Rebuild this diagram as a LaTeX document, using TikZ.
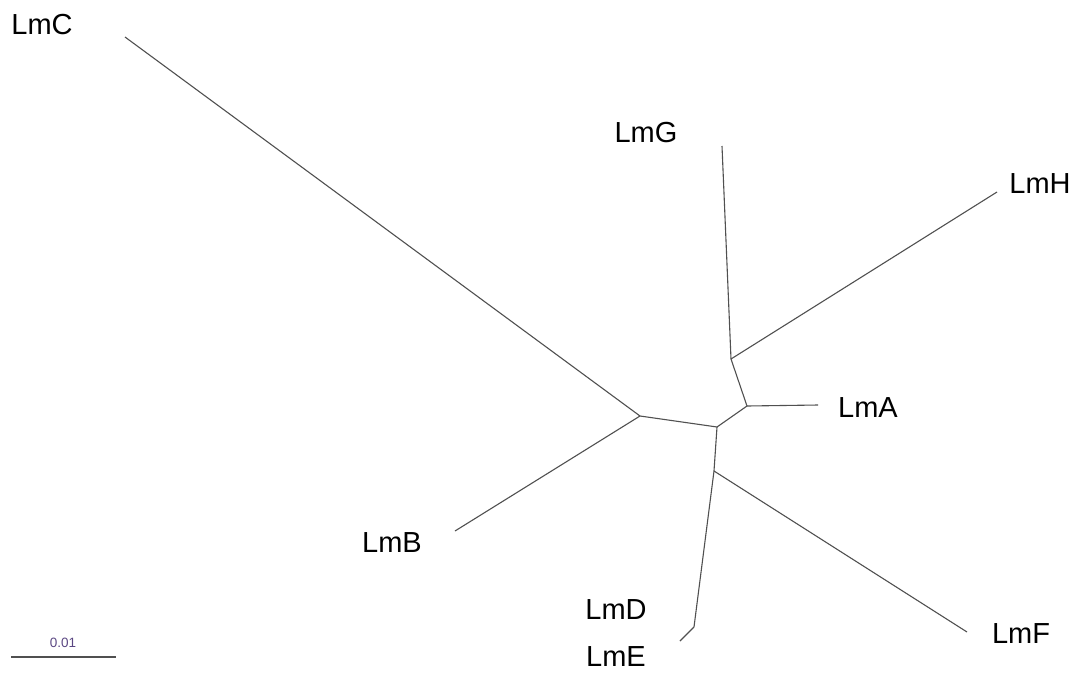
\documentclass[tikz,border=0pt]{standalone}
\usepackage{fontspec}
\setmainfont{Liberation Sans}
\definecolor{branch}{RGB}{80,80,80}
\definecolor{scalelbl}{RGB}{90,70,130}
\begin{document}
\begin{tikzpicture}[x=1pt,y=-1pt,
  branchline/.style={draw=branch,line width=1.1pt,line join=round},
  leaflabel/.style={font=\fontsize{29}{34}\selectfont,inner sep=0pt,text=black},
  scalelabel/.style={font=\fontsize{13.5}{16}\selectfont,inner sep=0pt,text=scalelbl}]
\useasboundingbox (0,0) rectangle (1085,673);
% internal points
\coordinate (n1) at (640,416);
\coordinate (n2) at (717,427);
\coordinate (n3) at (747,406);
\coordinate (n4) at (731,359);
\coordinate (n5) at (714,471);
\coordinate (n6) at (694,627);
% tips
\coordinate (tC) at (125,37);
\coordinate (tB) at (455,531);
\coordinate (tG) at (722,146);
\coordinate (tH) at (997,192);
\coordinate (tA) at (818,405);
\coordinate (tF) at (967,632);
\coordinate (tDE) at (680,641);
% branches
\draw[branchline] (tC) -- (n1);
\draw[branchline] (tB) -- (n1);
\draw[branchline] (n1) -- (n2);
\draw[branchline] (n2) -- (n3);
\draw[branchline] (n3) -- (tA);
\draw[branchline] (n3) -- (n4);
\draw[branchline] (n4) -- (tG);
\draw[branchline] (n4) -- (tH);
\draw[branchline] (n2) -- (n5);
\draw[branchline] (n5) -- (tF);
\draw[branchline] (n5) -- (n6);
\draw[branchline] (n6) -- (tDE);
% labels
\node[leaflabel] (LmC) at (42,25) {LmC};
\node[leaflabel] (LmG) at (646,133) {LmG};
\node[leaflabel] (LmH) at (1040,184) {LmH};
\node[leaflabel] (LmA) at (868,408) {LmA};
\node[leaflabel] (LmB) at (392,543) {LmB};
\node[leaflabel] (LmD) at (616,610) {LmD};
\node[leaflabel] (LmE) at (616,657) {LmE};
\node[leaflabel] (LmF) at (1021,634) {LmF};
% scale bar
\coordinate (s1) at (11,657);
\coordinate (s2) at (116,657);
\draw[branchline] (s1) -- (s2);
\node[scalelabel] (scale) at (63,643) {0.01};
\end{tikzpicture}
\end{document}
